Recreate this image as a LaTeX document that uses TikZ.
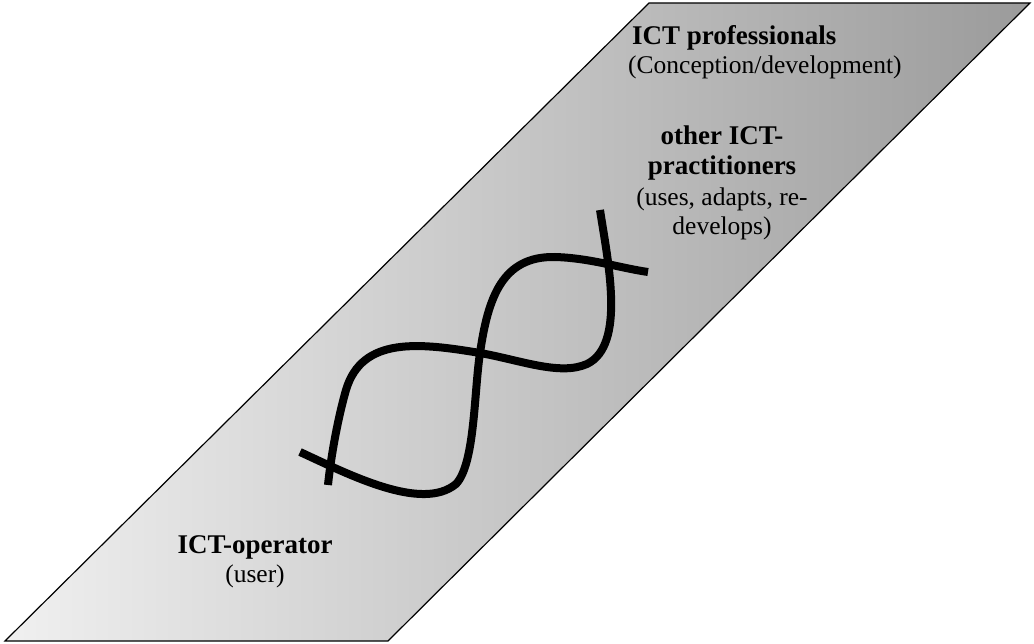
\documentclass[tikz,border=0pt]{standalone}
\usepackage{fontspec}
\setmainfont{Liberation Serif}
\definecolor{bandlight}{RGB}{240,240,240}
\definecolor{banddark}{RGB}{155,155,155}
\tikzset{
  band/.style={draw=black, line width=1.2pt, left color=bandlight, right color=banddark},
  strand/.style={line width=8pt, line cap=butt, black},
  headline/.style={inner sep=0pt, font=\fontsize{27}{29}\selectfont\bfseries},
  subline/.style={inner sep=0pt, font=\fontsize{25.5}{28}\selectfont},
}
\begin{document}
\begin{tikzpicture}[x=1pt, y=-1pt]
  \useasboundingbox (0,0) rectangle (1034,644);

  % slanted band
  \path[band] (649,3) -- (1030,3) -- (388,641) -- (5,641) -- cycle;

  % two intertwined strands
  \draw[strand] (300,452) .. controls (350,475) and (422,512) .. (456,484)
    .. controls (475,464) and (474,392) .. (480,353)
    .. controls (488,298) and (502,256) .. (555,257)
    .. controls (590,258) and (620,268) .. (648,272);
  \draw[strand] (600,210) .. controls (608,262) and (626,345) .. (587,364)
    .. controls (560,376) and (520,360) .. (480,353)
    .. controls (420,343) and (362,336) .. (346,390)
    .. controls (336,425) and (330,465) .. (328,485);

  % labels
  \node[headline, anchor=base west] (prof) at (632,45) {ICT professionals};
  \node[subline, anchor=base west] (profsub) at (628,74) {(Conception/development)};

  \node[headline, anchor=base] (other1) at (722,145) {other ICT-};
  \node[headline, anchor=base] (other2) at (722,175) {practitioners};
  \node[subline, anchor=base] (othersub1) at (722,206) {(uses, adapts, re-};
  \node[subline, anchor=base] (othersub2) at (722,235) {develops)};

  \node[headline, anchor=base] (oper) at (255,553) {ICT-operator};
  \node[subline, anchor=base] (opersub) at (255,582) {(user)};
\end{tikzpicture}
\end{document}
